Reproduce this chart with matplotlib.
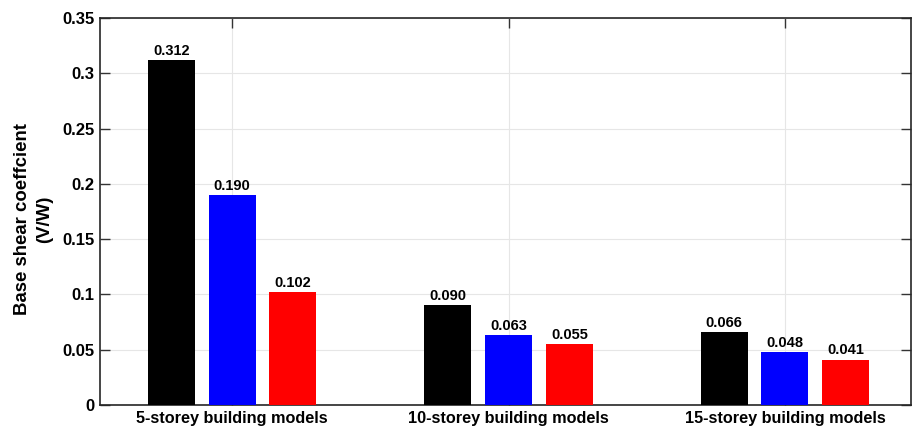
import matplotlib
matplotlib.use("Agg")
import matplotlib.pyplot as plt
import numpy as np

plt.rcParams['font.family'] = ['Liberation Sans', 'DejaVu Sans']

categories = ["5-storey building models", "10-storey building models", "15-storey building models"]
series_a = [0.312, 0.090, 0.066]
series_b = [0.190, 0.063, 0.048]
series_c = [0.102, 0.055, 0.041]
colors = ["#000000", "#0000ff", "#ff0000"]
yticks = [0, 0.05, 0.1, 0.15, 0.2, 0.25, 0.3, 0.35]
ytick_labels = ["0", "0.05", "0.1", "0.15", "0.2", "0.25", "0.3", "0.35"]

fig = plt.figure(figsize=(9.13, 4.30), dpi=100)
ax = fig.add_axes([100 / 913, 25 / 430, 811 / 913, 387 / 430])

x = np.arange(1, len(categories) + 1)
offset = 0.22
width = 0.17
for i, (vals, c) in enumerate(zip([series_a, series_b, series_c], colors)):
    pos = x + (i - 1) * offset
    ax.bar(pos, vals, width=width, color=c, zorder=3)
    for p, v in zip(pos, vals):
        ax.text(p, v + 0.002, f"{v:.3f}", ha="center", va="bottom",
                fontsize=10.5, fontweight="bold", zorder=4)

ax.set_xlim(0.522, 3.456)
ax.set_ylim(0, 0.35)
ax.set_xticks(x)
ax.set_xticklabels(categories, fontsize=11.7, fontweight="bold")
ax.set_yticks(yticks)
ax.set_yticklabels(ytick_labels, fontsize=12, fontweight="bold")
ax.set_ylabel("Base shear coeffcient\n(V/W)", fontsize=13.4, fontweight="bold",
              linespacing=1.38)
ax.yaxis.set_label_coords(-0.058, 0.48)

ax.grid(True, color="#e6e6e6", linewidth=0.8, zorder=0)
ax.tick_params(direction="in", length=7, width=1, color="#333333",
               top=True, right=True, pad=4)
for s in ax.spines.values():
    s.set_color("#262626")
    s.set_linewidth(1.2)

fig.savefig("out.png", dpi=100)
